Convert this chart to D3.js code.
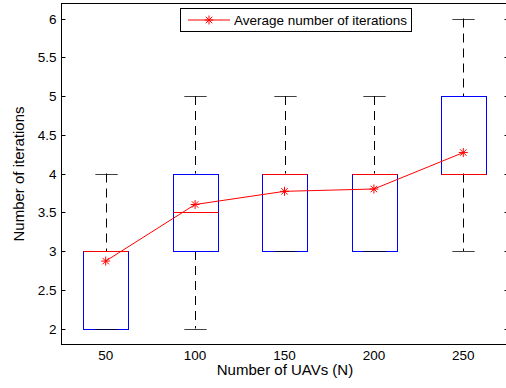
<!DOCTYPE html>
<html>
<head>
<meta charset="utf-8">
<script src="https://cdn.jsdelivr.net/npm/d3@7"></script>
<style>
  body { margin: 0; background: #fff; }
  svg { font-family: "Liberation Sans", Arial, sans-serif; }
</style>
</head>
<body>
<div id="chart"></div>
<script>
// data
const groups = ["50", "100", "150", "200", "250"];
const mins    = [2, 2, 3, 3, 3];
const q1s     = [2, 3, 3, 3, 4];
const medians = [3, 3.5, 4, 4, 4];
const q3s     = [3, 4, 4, 4, 5];
const maxs    = [4, 5, 5, 5, 6];
const means   = [2.87, 3.6, 3.77, 3.8, 4.27];
const yTicks  = [2, 2.5, 3, 3.5, 4, 4.5, 5, 5.5, 6];

const W = 506, H = 388;
const margin = { top: 3, left: 61 };
const plotW = 447, plotH = 341;

const svg = d3.select("#chart").append("svg")
    .attr("width", W)
    .attr("height", H);

const x = d3.scaleLinear().domain([0.5, 5.5]).range([margin.left, margin.left + plotW]);
const y = d3.scaleLinear().domain([1.8, 6.2]).range([margin.top + plotH, margin.top]);

const rows = groups.map((g, i) => ({
    g: g, pos: i + 1,
    min: mins[i], q1: q1s[i], med: medians[i], q3: q3s[i], max: maxs[i], mean: means[i]
}));

const boxW = x(1.25) - x(1);
const capW = x(1.125) - x(1);

// axes frame
const x0 = margin.left + 0.5, x1 = margin.left + plotW + 0.5;
const yTop = margin.top + 0.5, yBot = margin.top + plotH + 0.5;
svg.append("rect")
    .attr("x", x0).attr("y", yTop)
    .attr("width", x1 - x0).attr("height", yBot - yTop)
    .attr("fill", "none").attr("stroke", "#000").attr("stroke-width", 1);

// y ticks on both sides, pointing inward
yTicks.forEach(t => {
    const yy = Math.round(y(t)) + 0.5;
    svg.append("line").attr("x1", x0).attr("x2", x0 + 4).attr("y1", yy).attr("y2", yy)
        .attr("stroke", "#000");
    svg.append("line").attr("x1", x1 - 4).attr("x2", x1).attr("y1", yy).attr("y2", yy)
        .attr("stroke", "#000");
    svg.append("text")
        .attr("x", x0 - 5).attr("y", yy)
        .attr("dy", "0.35em")
        .attr("text-anchor", "end")
        .attr("font-size", 13.5)
        .text(t);
});

// x tick labels
rows.forEach(d => {
    svg.append("text")
        .attr("x", x(d.pos)).attr("y", 359.5)
        .attr("text-anchor", "middle")
        .attr("font-size", 13.5)
        .text(d.g);
});

// whiskers
const bx = svg.append("g");
rows.forEach(d => {
    const cx = Math.round(x(d.pos)) + 0.5;
    if (d.max > d.q3) {
        bx.append("line").attr("x1", cx).attr("x2", cx)
            .attr("y1", y(d.max)).attr("y2", y(d.q3))
            .attr("stroke", "#000").attr("stroke-dasharray", "9,6");
    }
    if (d.min < d.q1) {
        bx.append("line").attr("x1", cx).attr("x2", cx)
            .attr("y1", y(d.q1)).attr("y2", y(d.min))
            .attr("stroke", "#000").attr("stroke-dasharray", "9,6");
    }
    // box
    bx.append("rect")
        .attr("x", Math.round(x(d.pos) - boxW) + 0.5)
        .attr("y", Math.round(y(d.q3)) + 0.5)
        .attr("width", Math.round(boxW * 2))
        .attr("height", Math.round(y(d.q1)) - Math.round(y(d.q3)))
        .attr("fill", "none").attr("stroke", "#0000ff");
    // caps
    [d.min, d.max].forEach(v => {
        const yy = Math.round(y(v)) + 0.5;
        bx.append("line").attr("x1", cx - capW).attr("x2", cx + capW)
            .attr("y1", yy).attr("y2", yy)
            .attr("stroke", "#000").attr("stroke-opacity", 0.75);
    });
    // median
    const ym = Math.round(y(d.med)) + 0.5;
    bx.append("line")
        .attr("x1", Math.round(x(d.pos) - boxW) + 0.5)
        .attr("x2", Math.round(x(d.pos) - boxW) + 0.5 + Math.round(boxW * 2))
        .attr("y1", ym).attr("y2", ym)
        .attr("stroke", "#ff0000");
});

// mean line with star markers
const line = d3.line().x(d => x(d.pos)).y(d => y(d.mean));
svg.append("path").datum(rows)
    .attr("d", line)
    .attr("fill", "none").attr("stroke", "#ff0000").attr("stroke-width", 1);

function star(g, cx, cy, r) {
    const dd = r * 0.72;
    const p = `M${cx - r},${cy}L${cx + r},${cy}M${cx},${cy - r}L${cx},${cy + r}` +
              `M${cx - dd},${cy - dd}L${cx + dd},${cy + dd}M${cx - dd},${cy + dd}L${cx + dd},${cy - dd}`;
    g.append("path").attr("d", p).attr("stroke", "#ff0000").attr("stroke-width", 1).attr("fill", "none");
}
const mk = svg.append("g");
rows.forEach(d => star(mk, x(d.pos), y(d.mean), 4.5));

// legend
const lg = svg.append("g");
lg.append("rect")
    .attr("x", 180.5).attr("y", 8.5).attr("width", 231).attr("height", 23)
    .attr("fill", "#fff").attr("stroke", "#000");
lg.append("line").attr("x1", 188).attr("x2", 230).attr("y1", 20).attr("y2", 20)
    .attr("stroke", "#ff0000");
star(lg, 209, 20, 4.5);
lg.append("text")
    .attr("x", 234).attr("y", 20).attr("dy", "0.35em")
    .attr("font-size", 13.5)
    .text("Average number of iterations");

// axis labels
svg.append("text")
    .attr("x", (x0 + x1) / 2).attr("y", 375)
    .attr("text-anchor", "middle")
    .attr("font-size", 15)
    .text("Number of UAVs (N)");
svg.append("text")
    .attr("transform", `translate(24,${(yTop + yBot) / 2}) rotate(-90)`)
    .attr("text-anchor", "middle")
    .attr("font-size", 15)
    .text("Number of iterations");
</script>
</body>
</html>
